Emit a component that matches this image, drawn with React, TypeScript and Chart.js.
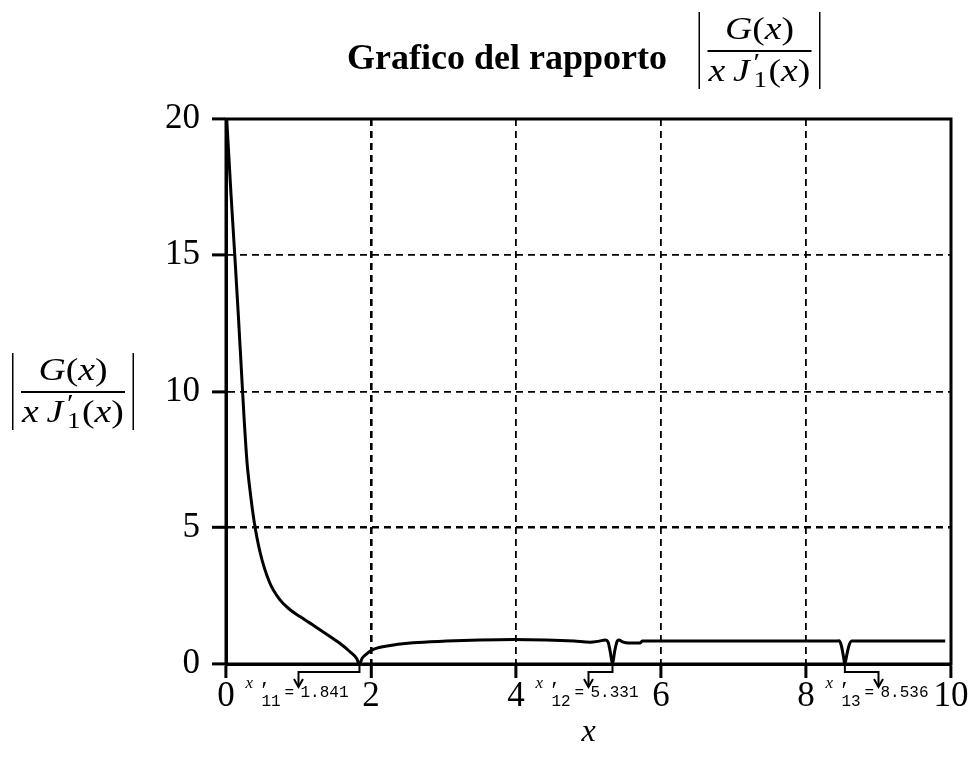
import React, { useEffect, useRef } from "react";
import { Chart, registerables } from "chart.js";

Chart.register(...registerables);

// ---- data ----
const curveX = [
  0.01, 0.04, 0.07, 0.1, 0.13, 0.17, 0.21, 0.25, 0.29, 0.33, 0.39, 0.47, 0.6, 0.745, 0.88,
  1.02, 1.16, 1.3, 1.44, 1.57, 1.71, 1.8, 1.841, 1.88, 1.92, 2.01, 2.22, 2.58, 3.04, 3.5,
  3.96, 4.42, 4.8, 5.02, 5.15, 5.23, 5.27, 5.3, 5.331, 5.36, 5.39, 5.42, 5.48, 5.55, 5.71,
  5.74, 6.2, 7.0, 7.8, 8.4, 8.46, 8.49, 8.515, 8.536, 8.56, 8.59, 8.63, 9.0, 9.5, 9.92,
];
const curveY = [
  20, 18.6, 17.2, 15.9, 14.6, 12.8, 10.9, 9.0, 7.4, 6.4, 5.2, 4.1, 3.0, 2.35, 2.0,
  1.74, 1.5, 1.25, 1.0, 0.76, 0.45, 0.21, 0.0, 0.22, 0.33, 0.51, 0.66, 0.78, 0.84, 0.88,
  0.9, 0.88, 0.84, 0.8, 0.84, 0.88, 0.8, 0.45, 0.0, 0.45, 0.8, 0.88, 0.8, 0.77, 0.77,
  0.84, 0.84, 0.84, 0.84, 0.84, 0.85, 0.65, 0.3, 0.0, 0.3, 0.65, 0.84, 0.84, 0.84, 0.84,
];
const xTicks = [0, 2, 4, 6, 8, 10];
const yTicks = [0, 5, 10, 15, 20];
const zeroX = [1.841, 5.331, 8.536];
const zeroLabelX = [1.0, 5.0, 9.0];
const zeroSub = ["11", "12", "13"];
const zeroText = ["1.841", "5.331", "8.536"];
const titleText = "Grafico del rapporto";
const xTitle = "x";

const SERIF = '"Liberation Serif", "DejaVu Serif", serif';
const MONO = '"Liberation Mono", "DejaVu Sans Mono", monospace';

function drawParts(ctx: CanvasRenderingContext2D, parts: [string, string][], x: number, y: number) {
  let cx = x;
  for (const [t, f] of parts) {
    ctx.font = f;
    ctx.fillText(t, cx, y);
    cx += ctx.measureText(t).width;
  }
  return cx;
}
function partsWidth(ctx: CanvasRenderingContext2D, parts: [string, string][]) {
  let w = 0;
  for (const [t, f] of parts) {
    ctx.font = f;
    w += ctx.measureText(t).width;
  }
  return w;
}

function drawFrac(ctx: CanvasRenderingContext2D, cx: number, ly: number, fs: number) {
  const ital = `italic ${fs}px ${SERIF}`;
  const up = `${fs}px ${SERIF}`;
  const small = `${Math.round(fs * 0.72)}px ${SERIF}`;
  ctx.save();
  ctx.fillStyle = "#000";
  // line and bars (unstretched)
  ctx.fillRect(cx - 52, ly - 1, 104, 2);
  ctx.fillRect(cx - 61, ly - 39, 1.5, 77);
  ctx.fillRect(cx + 59.5, ly - 39, 1.5, 77);
  // stretched glyphs
  ctx.translate(cx, 0);
  ctx.scale(1.18, 1);
  ctx.textAlign = "left";
  ctx.textBaseline = "alphabetic";
  const num: [string, string][] = [["G", ital], ["(", up], ["x", ital], [")", up]];
  const nw = partsWidth(ctx, num);
  drawParts(ctx, num, -nw / 2, ly - 12);
  const d1: [string, string][] = [["x", ital], ["\u2009", up], ["J", ital]];
  const d2: [string, string][] = [["(", up], ["x", ital], [")", up]];
  const w1 = partsWidth(ctx, d1);
  const stackW = fs * 0.5;
  const w2 = partsWidth(ctx, d2);
  const total = w1 + stackW + w2;
  let x0 = -total / 2;
  const base = ly + 30;
  x0 = drawParts(ctx, d1, x0, base);
  ctx.font = `${Math.round(fs * 0.8)}px ${SERIF}`;
  ctx.fillText("\u2032", x0 + fs * 0.1, base - fs * 0.3);
  ctx.font = small;
  ctx.fillText("1", x0 + fs * 0.1, base + fs * 0.18);
  x0 += stackW;
  drawParts(ctx, d2, x0, base);
  ctx.restore();
}

const decorPlugin = {
  id: "decor",
  afterDatasetsDraw(chart: any) {
    const ctx: CanvasRenderingContext2D = chart.ctx;
    const { left, right, top, bottom } = chart.chartArea;
    const xs = chart.scales.x;
    const ys = chart.scales.y;
    ctx.save();
    // frame
    ctx.strokeStyle = "#000";
    ctx.lineWidth = 3;
    ctx.strokeRect(left, top, right - left, bottom - top);

    // annotations
    const y0 = ys.getPixelForValue(0);
    for (let i = 0; i < zeroX.length; i++) {
      const px = xs.getPixelForValue(zeroX[i]);
      const c = xs.getPixelForValue(zeroLabelX[i]);
      const mid = y0 + 8;
      const tip = y0 + 23;
      ctx.lineWidth = 2;
      ctx.beginPath();
      ctx.moveTo(px, y0);
      ctx.lineTo(px, mid);
      ctx.lineTo(c, mid);
      ctx.lineTo(c, tip);
      ctx.stroke();
      ctx.beginPath();
      ctx.moveTo(c - 4.5, tip - 8);
      ctx.lineTo(c, tip);
      ctx.lineTo(c + 4.5, tip - 8);
      ctx.stroke();
      // label  x'_{1n}=value
      ctx.fillStyle = "#000";
      ctx.textAlign = "left";
      ctx.textBaseline = "alphabetic";
      ctx.font = `italic 17px ${SERIF}`;
      ctx.fillText("x", c - 53, tip + 1);
      ctx.font = `26px ${SERIF}`;
      ctx.fillText("\u2032", c - 37, tip + 12);
      ctx.font = `16px ${MONO}`;
      ctx.fillText(zeroSub[i], c - 37, tip + 19);
      ctx.fillText("=", c - 14, tip + 10);
      ctx.fillText(zeroText[i], c + 2, tip + 10);
    }

    // title
    ctx.fillStyle = "#000";
    ctx.textAlign = "right";
    ctx.textBaseline = "alphabetic";
    ctx.font = `bold 36px ${SERIF}`;
    ctx.fillText(titleText, 667, 69);
    drawFrac(ctx, 759.5, 51, 32);

    // y-axis title
    drawFrac(ctx, 73, 392, 32);

    // x-axis title
    ctx.textAlign = "center";
    ctx.font = `italic 32px ${SERIF}`;
    ctx.fillText(xTitle, (left + right) / 2, 741);
    ctx.restore();
  },
};

export default function App() {
  const ref = useRef<HTMLCanvasElement | null>(null);
  useEffect(() => {
    if (!ref.current) return;
    const gridWidth = (isX: boolean) => (ctx: any) => {
      const v = ctx.tick ? ctx.tick.value : null;
      if (isX && v === 2) return 2.6;
      if (!isX && v === 5) return 2.6;
      return 1.8;
    };
    const chart = new Chart(ref.current, {
      type: "scatter",
      data: {
        datasets: [
          {
            data: curveX.map((x, i) => ({ x, y: curveY[i] })),
            showLine: true,
            borderColor: "#000",
            borderWidth: 3,
            pointRadius: 0,
            cubicInterpolationMode: "monotone",
            fill: false,
          },
        ],
      },
      options: {
        animation: false,
        responsive: false,
        devicePixelRatio: 1,
        layout: { padding: { left: 0, top: 119, right: 23, bottom: 0 } },
        plugins: { legend: { display: false }, title: { display: false }, tooltip: { enabled: false } },
        scales: {
          x: {
            type: "linear",
            min: 0,
            max: 10,
            afterBuildTicks: (s: any) => {
              s.ticks = xTicks.map((v) => ({ value: v }));
            },
            afterFit: (s: any) => {
              s.height = 97;
            },
            ticks: {
              color: "#000",
              font: { family: SERIF, size: 35 },
              padding: -2,
              maxRotation: 0,
              autoSkip: false,
              callback: (v: any) => String(v),
            },
            grid: {
              color: "#000",
              lineWidth: gridWidth(true),
              tickColor: "#000",
              tickWidth: 3,
              tickLength: 14,
            },
            border: { display: true, color: "#000", width: 3, dash: [7, 5] },
          },
          y: {
            type: "linear",
            min: 0,
            max: 20,
            afterBuildTicks: (s: any) => {
              s.ticks = yTicks.map((v) => ({ value: v }));
            },
            afterFit: (s: any) => {
              s.width = 226;
            },
            ticks: {
              color: "#000",
              font: { family: SERIF, size: 35 },
              padding: 12,
              autoSkip: false,
              callback: (v: any) => String(v),
            },
            grid: {
              color: "#000",
              lineWidth: gridWidth(false),
              tickColor: "#000",
              tickWidth: 3,
              tickLength: 14,
            },
            border: { display: true, color: "#000", width: 3, dash: [7, 5] },
          },
        },
      } as any,
      plugins: [decorPlugin],
    });
    return () => chart.destroy();
  }, []);
  return (
    <div style={{ position: "fixed", left: 0, top: 0, width: 974, height: 761, background: "#fff" }}>
      <canvas ref={ref} width={974} height={761} style={{ width: 974, height: 761, display: "block" }} />
    </div>
  );
}
